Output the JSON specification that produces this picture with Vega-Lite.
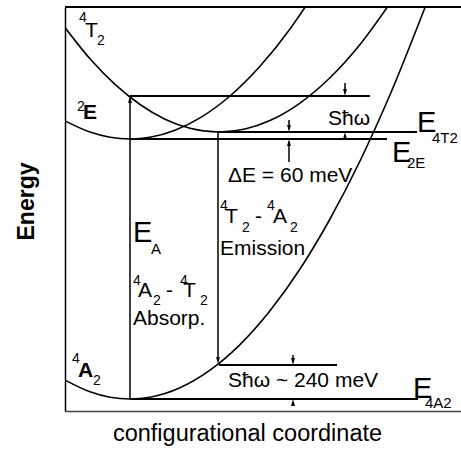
{
  "$schema": "https://vega.github.io/schema/vega-lite/v6.json",
  "width": 396,
  "height": 404,
  "autosize": {"type": "none"},
  "padding": {"left": 65, "top": 7, "right": 0, "bottom": 42},
  "background": "white",
  "config": {"view": {"stroke": null}, "text": {"font": "Liberation Sans", "color": "black"}},
  "datasets": {
    "curves": [
      {"curve": "4A2", "x": 1, "y": 30.4}, {"curve": "4A2", "x": 25, "y": 19.2}, {"curve": "4A2", "x": 45, "y": 13.8},
      {"curve": "4A2", "x": 65, "y": 12}, {"curve": "4A2", "x": 85, "y": 13.8}, {"curve": "4A2", "x": 115, "y": 23.2},
      {"curve": "4A2", "x": 145, "y": 40.8}, {"curve": "4A2", "x": 175, "y": 66.4}, {"curve": "4A2", "x": 205, "y": 100.2},
      {"curve": "4A2", "x": 235, "y": 142}, {"curve": "4A2", "x": 265, "y": 192}, {"curve": "4A2", "x": 295, "y": 250},
      {"curve": "4A2", "x": 325, "y": 316.2}, {"curve": "4A2", "x": 360, "y": 403.6},
      {"curve": "2E", "x": 1, "y": 289.6}, {"curve": "2E", "x": 25, "y": 278.9}, {"curve": "2E", "x": 45, "y": 273.7},
      {"curve": "2E", "x": 65, "y": 272}, {"curve": "2E", "x": 85, "y": 273.7}, {"curve": "2E", "x": 110, "y": 280.7},
      {"curve": "2E", "x": 135, "y": 293.1}, {"curve": "2E", "x": 165, "y": 315}, {"curve": "2E", "x": 195, "y": 344.7},
      {"curve": "2E", "x": 225, "y": 382}, {"curve": "2E", "x": 241, "y": 405.2},
      {"curve": "4T2", "x": 0, "y": 383.4}, {"curve": "4T2", "x": 25, "y": 352.2}, {"curve": "4T2", "x": 50, "y": 326.6},
      {"curve": "4T2", "x": 75, "y": 306.5}, {"curve": "4T2", "x": 100, "y": 291.8}, {"curve": "4T2", "x": 125, "y": 282.7},
      {"curve": "4T2", "x": 154, "y": 279}, {"curve": "4T2", "x": 180, "y": 282}, {"curve": "4T2", "x": 205, "y": 290.4},
      {"curve": "4T2", "x": 235, "y": 307.9}, {"curve": "4T2", "x": 265, "y": 333.2}, {"curve": "4T2", "x": 295, "y": 366.5},
      {"curve": "4T2", "x": 325, "y": 407.7}
    ],
    "levels": [
      {"x": 65, "x2": 305, "y": 315},
      {"x": 152, "x2": 352, "y": 279},
      {"x": 65, "x2": 322, "y": 272},
      {"x": 154, "x2": 272, "y": 46},
      {"x": 65, "x2": 353, "y": 12}
    ],
    "frame": [{"x": 0, "x2": 396, "y": 404}],
    "stems": [
      {"x": 65, "y": 12, "y2": 312},
      {"x": 153, "y": 50, "y2": 279},
      {"x": 280, "y": 318, "y2": 328},
      {"x": 224, "y": 282, "y2": 291},
      {"x": 224, "y": 249, "y2": 269},
      {"x": 228, "y": 49, "y2": 56}
    ],
    "heads": [
      {"x": 65, "y": 311.5, "dir": "up"},
      {"x": 280, "y": 275.5, "dir": "up"},
      {"x": 224, "y": 268.5, "dir": "up"},
      {"x": 228, "y": 8.5, "dir": "up"},
      {"x": 153, "y": 50.5, "dir": "down"},
      {"x": 280, "y": 318.5, "dir": "down"},
      {"x": 224, "y": 282.5, "dir": "down"},
      {"x": 228, "y": 49.5, "dir": "down"}
    ],
    "labels": [
      {"x": 20, "y": 374, "t": "T", "k": "main"},
      {"x": 68, "y": 86, "t": "Absorp.", "k": "main"},
      {"x": 155, "y": 156, "t": "Emission", "k": "main"},
      {"x": 73, "y": 114, "t": "A", "k": "main"},
      {"x": 101, "y": 114, "t": "-", "k": "main"},
      {"x": 118, "y": 114, "t": "T", "k": "main"},
      {"x": 160, "y": 188, "t": "T", "k": "main"},
      {"x": 190, "y": 188, "t": "-", "k": "main"},
      {"x": 208, "y": 188, "t": "A", "k": "main"},
      {"x": 263, "y": 286, "t": "Sħω", "k": "main"},
      {"x": 163, "y": 229, "t": "ΔE = 60 meV", "k": "main"},
      {"x": 163, "y": 24, "t": "Sħω ~ 240 meV", "k": "main"},
      {"x": 18, "y": 292, "t": "E", "k": "bold"},
      {"x": 13, "y": 34, "t": "A", "k": "bold"},
      {"x": 68, "y": 169, "t": "E", "k": "big"},
      {"x": 352, "y": 279, "t": "E", "k": "big"},
      {"x": 327, "y": 249, "t": "E", "k": "big"},
      {"x": 348, "y": 13, "t": "E", "k": "big"},
      {"x": 86, "y": 157, "t": "A", "k": "index"},
      {"x": 367, "y": 268, "t": "4T2", "k": "index"},
      {"x": 342, "y": 243, "t": "2E", "k": "index"},
      {"x": 360, "y": 3, "t": "4A2", "k": "index"},
      {"x": 14, "y": 389, "t": "4", "k": "script"},
      {"x": 32, "y": 366, "t": "2", "k": "script"},
      {"x": 12, "y": 300, "t": "2", "k": "script"},
      {"x": 7, "y": 48, "t": "4", "k": "script"},
      {"x": 28, "y": 26, "t": "2", "k": "script"},
      {"x": 68, "y": 126, "t": "4", "k": "script"},
      {"x": 88, "y": 106, "t": "2", "k": "script"},
      {"x": 115, "y": 126, "t": "4", "k": "script"},
      {"x": 135, "y": 106, "t": "2", "k": "script"},
      {"x": 155, "y": 201, "t": "4", "k": "script"},
      {"x": 177, "y": 179, "t": "2", "k": "script"},
      {"x": 202, "y": 201, "t": "4", "k": "script"},
      {"x": 225, "y": 179, "t": "2", "k": "script"}
    ]
  },
  "encoding": {
    "x": {
      "field": "x", "type": "quantitative",
      "scale": {"domain": [0, 396], "nice": false, "zero": false},
      "axis": {
        "title": "configurational coordinate", "titleFont": "Liberation Sans", "titleFontSize": 23.5,
        "titleFontWeight": "normal", "titleColor": "black", "titleX": 182, "titleY": 29,
        "titleAlign": "center", "titleBaseline": "alphabetic",
        "domainColor": "#444", "domainWidth": 1.5, "ticks": false, "labels": false, "grid": false
      }
    },
    "y": {
      "field": "y", "type": "quantitative",
      "scale": {"domain": [0, 404], "nice": false, "zero": false},
      "axis": {
        "title": "Energy", "titleFont": "Liberation Sans", "titleFontSize": 23,
        "titleFontWeight": "bold", "titleColor": "black", "titleX": -32, "titleY": 194,
        "titleAngle": 270, "titleAlign": "center", "titleBaseline": "alphabetic",
        "domainColor": "black", "domainWidth": 1.5, "ticks": false, "labels": false, "grid": false
      }
    }
  },
  "layer": [
    {
      "data": {"name": "curves"},
      "mark": {"type": "line", "color": "black", "strokeWidth": 1.6, "interpolate": "monotone", "clip": true},
      "encoding": {"detail": {"field": "curve"}}
    },
    {
      "data": {"name": "frame"},
      "mark": {"type": "rule", "color": "black", "strokeWidth": 2},
      "encoding": {"x2": {"field": "x2"}}
    },
    {
      "data": {"name": "levels"},
      "mark": {"type": "rule", "color": "black", "strokeWidth": 2},
      "encoding": {"x2": {"field": "x2"}}
    },
    {
      "data": {"name": "stems"},
      "mark": {"type": "rule", "color": "black", "strokeWidth": 1.5},
      "encoding": {"y2": {"field": "y2"}}
    },
    {
      "data": {"name": "heads"},
      "transform": [{"filter": "datum.dir === 'up'"}],
      "mark": {"type": "point", "filled": true, "shape": "M0,-1L0.55,1L-0.55,1Z", "size": 49, "color": "black", "opacity": 1, "strokeWidth": 0}
    },
    {
      "data": {"name": "heads"},
      "transform": [{"filter": "datum.dir === 'down'"}],
      "mark": {"type": "point", "filled": true, "shape": "M0,1L0.55,-1L-0.55,-1Z", "size": 49, "color": "black", "opacity": 1, "strokeWidth": 0}
    },
    {
      "data": {"name": "labels"},
      "transform": [{"filter": "datum.k === 'main'"}],
      "mark": {"type": "text", "align": "left", "baseline": "alphabetic", "fontSize": 21, "font": "Liberation Sans"},
      "encoding": {"text": {"field": "t"}}
    },
    {
      "data": {"name": "labels"},
      "transform": [{"filter": "datum.k === 'bold'"}],
      "mark": {"type": "text", "align": "left", "baseline": "alphabetic", "fontSize": 21, "fontWeight": "bold", "font": "Liberation Sans"},
      "encoding": {"text": {"field": "t"}}
    },
    {
      "data": {"name": "labels"},
      "transform": [{"filter": "datum.k === 'big'"}],
      "mark": {"type": "text", "align": "left", "baseline": "alphabetic", "fontSize": 29, "font": "Liberation Sans"},
      "encoding": {"text": {"field": "t"}}
    },
    {
      "data": {"name": "labels"},
      "transform": [{"filter": "datum.k === 'index'"}],
      "mark": {"type": "text", "align": "left", "baseline": "alphabetic", "fontSize": 15, "font": "Liberation Sans"},
      "encoding": {"text": {"field": "t"}}
    },
    {
      "data": {"name": "labels"},
      "transform": [{"filter": "datum.k === 'script'"}],
      "mark": {"type": "text", "align": "left", "baseline": "alphabetic", "fontSize": 14, "font": "Liberation Sans"},
      "encoding": {"text": {"field": "t"}}
    }
  ]
}
